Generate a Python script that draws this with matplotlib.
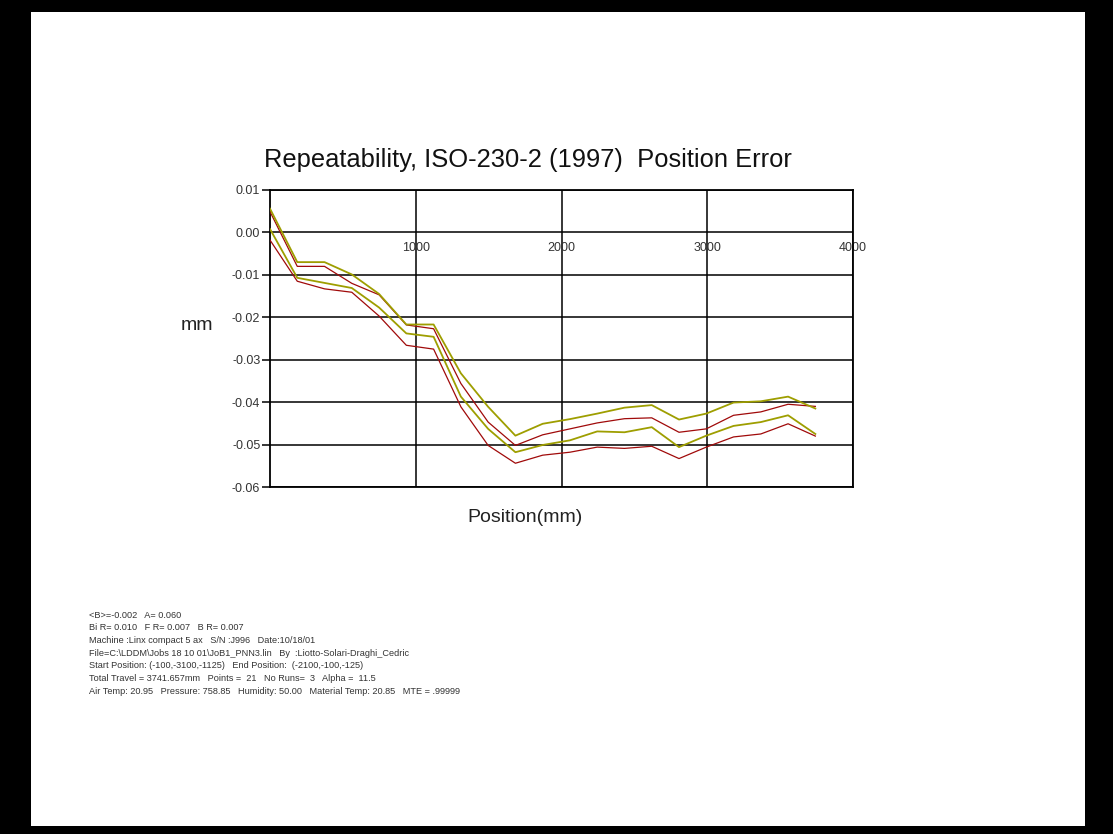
import matplotlib.pyplot as plt
from matplotlib.patches import Rectangle
from matplotlib.ticker import FormatStrFormatter

plt.rcParams['font.family'] = ['Liberation Sans', 'DejaVu Sans']
plt.rcParams['axes.unicode_minus'] = False

# Target positions (mm), 21 points over 3741.657 mm of travel
position = [0.00, 187.08, 374.17, 561.25, 748.33, 935.41, 1122.50, 1309.58,
            1496.66, 1683.75, 1870.83, 2057.91, 2244.99, 2432.08, 2619.16,
            2806.24, 2993.33, 3180.41, 3367.49, 3554.57, 3741.66]

# Position error bands (mm)
olive_upper = [0.0056, -0.0070, -0.0070, -0.0099, -0.0145, -0.0217, -0.0217,
               -0.0332, -0.0411, -0.0479, -0.0451, -0.0440, -0.0427, -0.0413,
               -0.0407, -0.0441, -0.0427, -0.0401, -0.0398, -0.0387, -0.0415]
red_upper = [0.0049, -0.0080, -0.0080, -0.0120, -0.0147, -0.0218, -0.0227,
             -0.0356, -0.0447, -0.0502, -0.0477, -0.0463, -0.0449, -0.0439,
             -0.0437, -0.0471, -0.0463, -0.0431, -0.0423, -0.0405, -0.0410]
olive_lower = [0.0008, -0.0107, -0.0119, -0.0131, -0.0177, -0.0238, -0.0246,
               -0.0387, -0.0463, -0.0518, -0.0501, -0.0490, -0.0469, -0.0471,
               -0.0459, -0.0506, -0.0479, -0.0456, -0.0447, -0.0431, -0.0475]
red_lower = [-0.0018, -0.0115, -0.0133, -0.0141, -0.0197, -0.0266, -0.0275,
             -0.0411, -0.0502, -0.0544, -0.0525, -0.0518, -0.0506, -0.0509,
             -0.0504, -0.0533, -0.0506, -0.0482, -0.0475, -0.0451, -0.0480]

x_ticks = [1000, 2000, 3000, 4000]
y_ticks = [0.01, 0.00, -0.01, -0.02, -0.03, -0.04, -0.05, -0.06]

info_lines = [
    "<B>=-0.002   A= 0.060",
    "Bi R= 0.010   F R= 0.007   B R= 0.007",
    "Machine :Linx compact 5 ax   S/N :J996   Date:10/18/01",
    "File=C:\\LDDM\\Jobs 18 10 01\\JoB1_PNN3.lin   By  :Liotto-Solari-Draghi_Cedric",
    "Start Position: (-100,-3100,-1125)   End Position:  (-2100,-100,-125)",
    "Total Travel = 3741.657mm   Points =  21   No Runs=  3   Alpha =  11.5",
    "Air Temp: 20.95   Pressure: 758.85   Humidity: 50.00   Material Temp: 20.85   MTE = .99999",
]

W, H = 1113, 834
fig = plt.figure(figsize=(W / 100, H / 100), dpi=100, facecolor='black')

# white page inside the black frame
fig.patches.append(Rectangle((31 / W, 1 - 826 / H), (1085 - 31) / W, (826 - 12) / H,
                             transform=fig.transFigure, facecolor='white',
                             edgecolor='none', zorder=-5))

ax = fig.add_axes([270 / W, 1 - 487 / H, (853 - 270) / W, (487 - 190) / H])
ax.set_facecolor('white')

red = '#a00a0a'
olive = '#9e9e00'
ax.plot(position, red_upper, color=red, lw=0.9, zorder=3)
ax.plot(position, red_lower, color=red, lw=0.9, zorder=3)
ax.plot(position, olive_upper, color=olive, lw=1.3, zorder=4)
ax.plot(position, olive_lower, color=olive, lw=1.3, zorder=4)

ax.set_xlim(0, 4000)
ax.set_ylim(-0.06, 0.01)
ax.set_xticks(x_ticks)
ax.set_yticks(y_ticks)
ax.yaxis.set_major_formatter(FormatStrFormatter('%.2f'))
ax.grid(True, color='black', lw=1.1)
ax.set_axisbelow(True)

# x labels sit under the zero line
ax.spines['bottom'].set_position(('data', 0))
ax.spines['bottom'].set_visible(False)
ax.axhline(-0.06, color='black', lw=1.3, clip_on=False)
for s in ['left', 'top', 'right']:
    ax.spines[s].set_linewidth(1.3)

ax.tick_params(axis='x', length=0, pad=7, labelsize=9, labelcolor='#333333')
ax.tick_params(axis='y', direction='out', length=6, width=1.1, pad=1,
               labelsize=9, labelcolor='#333333')

fig.text(528 / W, 1 - 160 / H, "Repeatability, ISO-230-2 (1997)  Position Error",
         ha='center', va='center', fontsize=18.4, color='#111111')
fig.text(197 / W, 1 - 326 / H, "mm", ha='center', va='center', fontsize=14, color='#222222')
fig.text(525 / W, 1 - 517 / H, "Position(mm)", ha='center', va='center',
         fontsize=14, color='#222222')

for k, line in enumerate(info_lines):
    fig.text(89 / W, 1 - (615 + 12.67 * k) / H, line, ha='left', va='center',
             fontsize=6.6, color='#333333')

fig.savefig('out.png', dpi=100, facecolor='black')
